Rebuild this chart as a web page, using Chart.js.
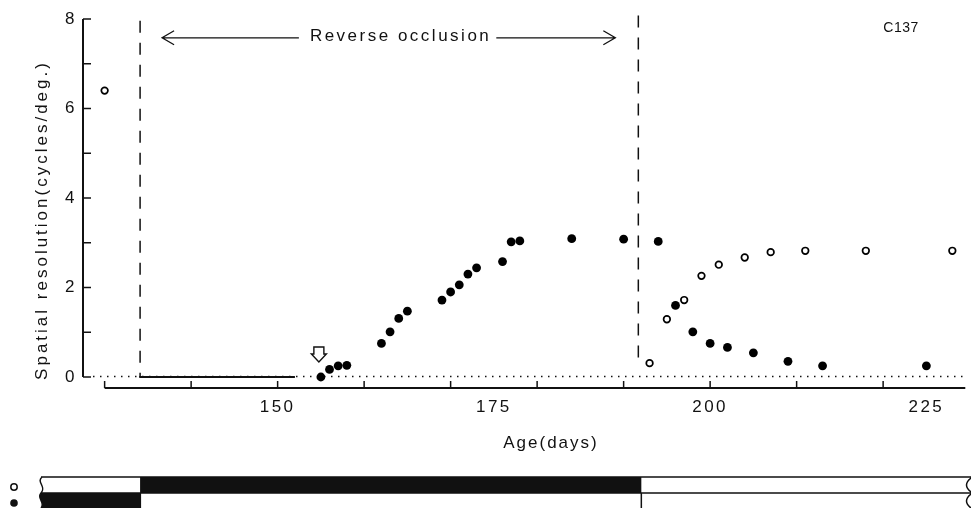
<!DOCTYPE html>
<html>
<head>
<meta charset="utf-8">
<script src="https://cdn.jsdelivr.net/npm/chart.js@4.4.1/dist/chart.umd.min.js"></script>
<style>
html, body { margin: 0; padding: 0; background: #fff; }
canvas { display: block; }
</style>
</head>
<body>
<canvas id="chart" width="971" height="508"></canvas>
<script>
// age (days) and spatial resolution (cycles/deg.), filled = first eye, open = other eye
const filledDays = [155, 156, 157, 158, 162, 163, 164, 165, 169, 170, 171, 172, 173, 176, 177, 178, 184, 190, 194, 196, 198, 200, 202, 205, 209, 213, 225];
const filledRes = [0, 0.17, 0.25, 0.26, 0.75, 1.01, 1.31, 1.47, 1.72, 1.90, 2.06, 2.30, 2.44, 2.58, 3.02, 3.04, 3.09, 3.08, 3.03, 1.60, 1.01, 0.75, 0.66, 0.54, 0.35, 0.25, 0.25];
const openDays = [130, 193, 195, 197, 199, 201, 204, 207, 211, 218, 228];
const openRes = [6.4, 0.31, 1.29, 1.72, 2.26, 2.51, 2.67, 2.79, 2.82, 2.82, 2.82];

// flat stretch at zero before the first response
const zeroDays = [134, 152];
const zeroRes = [0, 0];

// reverse occlusion period and first response (arrow)
const occlusionStart = 134.1;
const occlusionEnd = 191.7;
const firstResponseDay = 155;

const xTickMarks = [130, 140, 150, 160, 170, 180, 190, 200, 210, 220];
const xTickLabels = [150, 175, 200, 225];
const yTickMarks = [0, 1, 2, 3, 4, 5, 6, 7, 8];
const yTickLabels = [0, 2, 4, 6, 8];

const FONT = "'Liberation Sans', Arial, Helvetica, sans-serif";
const INK = '#111';

function toPoints(xs, ys) {
  return xs.map((d, i) => ({ x: d, y: ys[i] }));
}

const decor = {
  id: 'decor',
  beforeLayout(chart) { chart.ctx.letterSpacing = '2.5px'; },
  beforeDraw(chart) { chart.ctx.letterSpacing = '2.5px'; },
  beforeDatasetsDraw(chart) {
    const { ctx, scales: { x, y } } = chart;
    const y0 = y.getPixelForValue(0);
    ctx.save();
    ctx.strokeStyle = INK;
    ctx.fillStyle = INK;

    // y axis with inward ticks
    ctx.lineWidth = 2;
    ctx.beginPath();
    ctx.moveTo(x.left, y.getPixelForValue(8));
    ctx.lineTo(x.left, y0);
    ctx.stroke();
    ctx.lineWidth = 1.5;
    yTickMarks.forEach(v => {
      const py = y.getPixelForValue(v);
      ctx.beginPath();
      ctx.moveTo(x.left, py);
      ctx.lineTo(x.left + 8, py);
      ctx.stroke();
    });

    // x axis, set a little below zero, ticks pointing up
    const ax = y0 + 11;
    ctx.lineWidth = 2;
    ctx.beginPath();
    ctx.moveTo(x.getPixelForValue(xTickMarks[0]), ax);
    ctx.lineTo(x.right, ax);
    ctx.stroke();
    ctx.lineWidth = 1.5;
    xTickMarks.forEach(v => {
      const px = x.getPixelForValue(v);
      ctx.beginPath();
      ctx.moveTo(px, ax);
      ctx.lineTo(px, ax - 7);
      ctx.stroke();
    });

    // dotted zero line
    ctx.lineWidth = 1.5;
    ctx.setLineDash([1.5, 5.5]);
    ctx.beginPath();
    ctx.moveTo(x.left + 10, y0 - 0.5);
    ctx.lineTo(x.right, y0 - 0.5);
    ctx.stroke();

    // dashed lines at start and end of reverse occlusion
    ctx.setLineDash([12, 10]);
    ctx.lineWidth = 1.5;
    const xs = x.getPixelForValue(occlusionStart);
    const xe = x.getPixelForValue(occlusionEnd);
    ctx.beginPath();
    ctx.moveTo(xs, y.getPixelForValue(7.96));
    ctx.lineTo(xs, y0);
    ctx.moveTo(xe, y.getPixelForValue(8.08));
    ctx.lineTo(xe, y.getPixelForValue(0.3));
    ctx.stroke();
    ctx.setLineDash([]);

    // arrow label
    const ay = y.getPixelForValue(7.58);
    ctx.font = '17px ' + FONT;
    ctx.letterSpacing = '2.5px';
    ctx.textBaseline = 'middle';
    ctx.textAlign = 'center';
    const label = 'Reverse occlusion';
    const tx = x.getPixelForValue(164.1);
    const tw = ctx.measureText(label).width;
    ctx.fillText(label, tx + 1, ay - 1);
    const lt = xs + 22, rt = xe - 23;
    ctx.lineWidth = 1.3;
    ctx.beginPath();
    ctx.moveTo(lt, ay);
    ctx.lineTo(tx - tw / 2 - 10, ay);
    ctx.moveTo(tx + tw / 2 + 6, ay);
    ctx.lineTo(rt, ay);
    ctx.moveTo(lt + 12, ay - 7);
    ctx.lineTo(lt, ay);
    ctx.lineTo(lt + 12, ay + 7);
    ctx.moveTo(rt - 12, ay - 7);
    ctx.lineTo(rt, ay);
    ctx.lineTo(rt - 12, ay + 7);
    ctx.stroke();

    // open arrow marking the first response
    const mx = x.getPixelForValue(firstResponseDay) - 2;
    ctx.lineWidth = 1.4;
    ctx.fillStyle = '#fff';
    ctx.beginPath();
    ctx.moveTo(mx - 5, y0 - 30);
    ctx.lineTo(mx + 5, y0 - 30);
    ctx.lineTo(mx + 5, y0 - 23);
    ctx.lineTo(mx + 7.5, y0 - 23);
    ctx.lineTo(mx, y0 - 15);
    ctx.lineTo(mx - 7.5, y0 - 23);
    ctx.lineTo(mx - 5, y0 - 23);
    ctx.closePath();
    ctx.fill();
    ctx.stroke();
    ctx.fillStyle = INK;

    // titles
    ctx.textAlign = 'center';
    ctx.textBaseline = 'alphabetic';
    ctx.letterSpacing = '0.5px';
    ctx.font = '14px ' + FONT;
    ctx.fillText('C137', 901, 32);
    ctx.font = '17px ' + FONT;
    ctx.letterSpacing = '2px';
    ctx.fillText('Age(days)', 551, 448);
    ctx.save();
    ctx.translate(47, 220);
    ctx.rotate(-Math.PI / 2);
    ctx.letterSpacing = '3px';
    ctx.fillText('Spatial resolution(cycles/deg.)', 0, 0);
    ctx.restore();

    // occlusion timeline under the chart
    const top = 477, mid = 493, bot = 508, left = 41;
    ctx.fillRect(xs, top, xe + 3 - xs, mid - top);
    ctx.beginPath();
    ctx.moveTo(left, mid);
    ctx.bezierCurveTo(left - 5, mid + 5, left + 5, mid + 10, left, bot);
    ctx.lineTo(xs + 1, bot);
    ctx.lineTo(xs + 1, mid);
    ctx.closePath();
    ctx.fill();
    ctx.lineWidth = 1.5;
    ctx.beginPath();
    ctx.moveTo(left, top);
    ctx.lineTo(971, top);
    ctx.moveTo(left, mid);
    ctx.lineTo(971, mid);
    ctx.moveTo(xe + 3, mid);
    ctx.lineTo(xe + 3, bot);
    ctx.moveTo(left + 1, top);
    ctx.bezierCurveTo(left - 5, top + 5, left + 6, top + 10, left, mid);
    ctx.bezierCurveTo(left - 5, mid + 5, left + 5, mid + 10, left, bot);
    ctx.moveTo(971, top + 1);
    ctx.quadraticCurveTo(962, top + 8, 971, mid - 1);
    ctx.moveTo(971, mid + 1);
    ctx.quadraticCurveTo(962, mid + 8, 971, bot);
    ctx.stroke();

    // eye symbols beside the timeline
    ctx.lineWidth = 1.5;
    ctx.beginPath();
    ctx.arc(14, 487, 3.2, 0, Math.PI * 2);
    ctx.stroke();
    ctx.beginPath();
    ctx.arc(14, 503, 3.8, 0, Math.PI * 2);
    ctx.fill();

    ctx.restore();
  }
};

Chart.defaults.font.family = FONT;
Chart.defaults.color = INK;

new Chart(document.getElementById('chart'), {
  type: 'scatter',
  data: {
    datasets: [
      {
        data: toPoints(zeroDays, zeroRes),
        showLine: true,
        borderColor: INK,
        borderWidth: 2,
        pointRadius: 0,
        clip: false
      },
      {
        data: toPoints(filledDays, filledRes),
        backgroundColor: '#000',
        borderWidth: 0,
        pointRadius: 4.4,
        clip: false
      },
      {
        data: toPoints(openDays, openRes),
        backgroundColor: '#fff',
        borderColor: '#000',
        borderWidth: 1.7,
        pointRadius: 3.3,
        clip: false
      }
    ]
  },
  options: {
    responsive: false,
    animation: false,
    layout: { padding: { top: 19, left: 0, right: 0, bottom: 0 } },
    plugins: { legend: { display: false }, tooltip: { enabled: false } },
    scales: {
      x: {
        type: 'linear',
        min: 127.5,
        max: 229.5,
        grid: { display: false, drawTicks: false },
        border: { display: false },
        afterBuildTicks: s => { s.ticks = xTickLabels.map(v => ({ value: v })); },
        afterFit: s => { s.height = 131; },
        ticks: { padding: 20, font: { size: 17 }, color: INK, maxRotation: 0 }
      },
      y: {
        min: 0,
        max: 8,
        grid: { display: false, drawTicks: false },
        border: { display: false },
        afterBuildTicks: s => { s.ticks = yTickLabels.map(v => ({ value: v })); },
        afterFit: s => { s.width = 83; },
        ticks: { padding: 6, font: { size: 17 }, color: INK }
      }
    }
  },
  plugins: [decor]
});
</script>
</body>
</html>
